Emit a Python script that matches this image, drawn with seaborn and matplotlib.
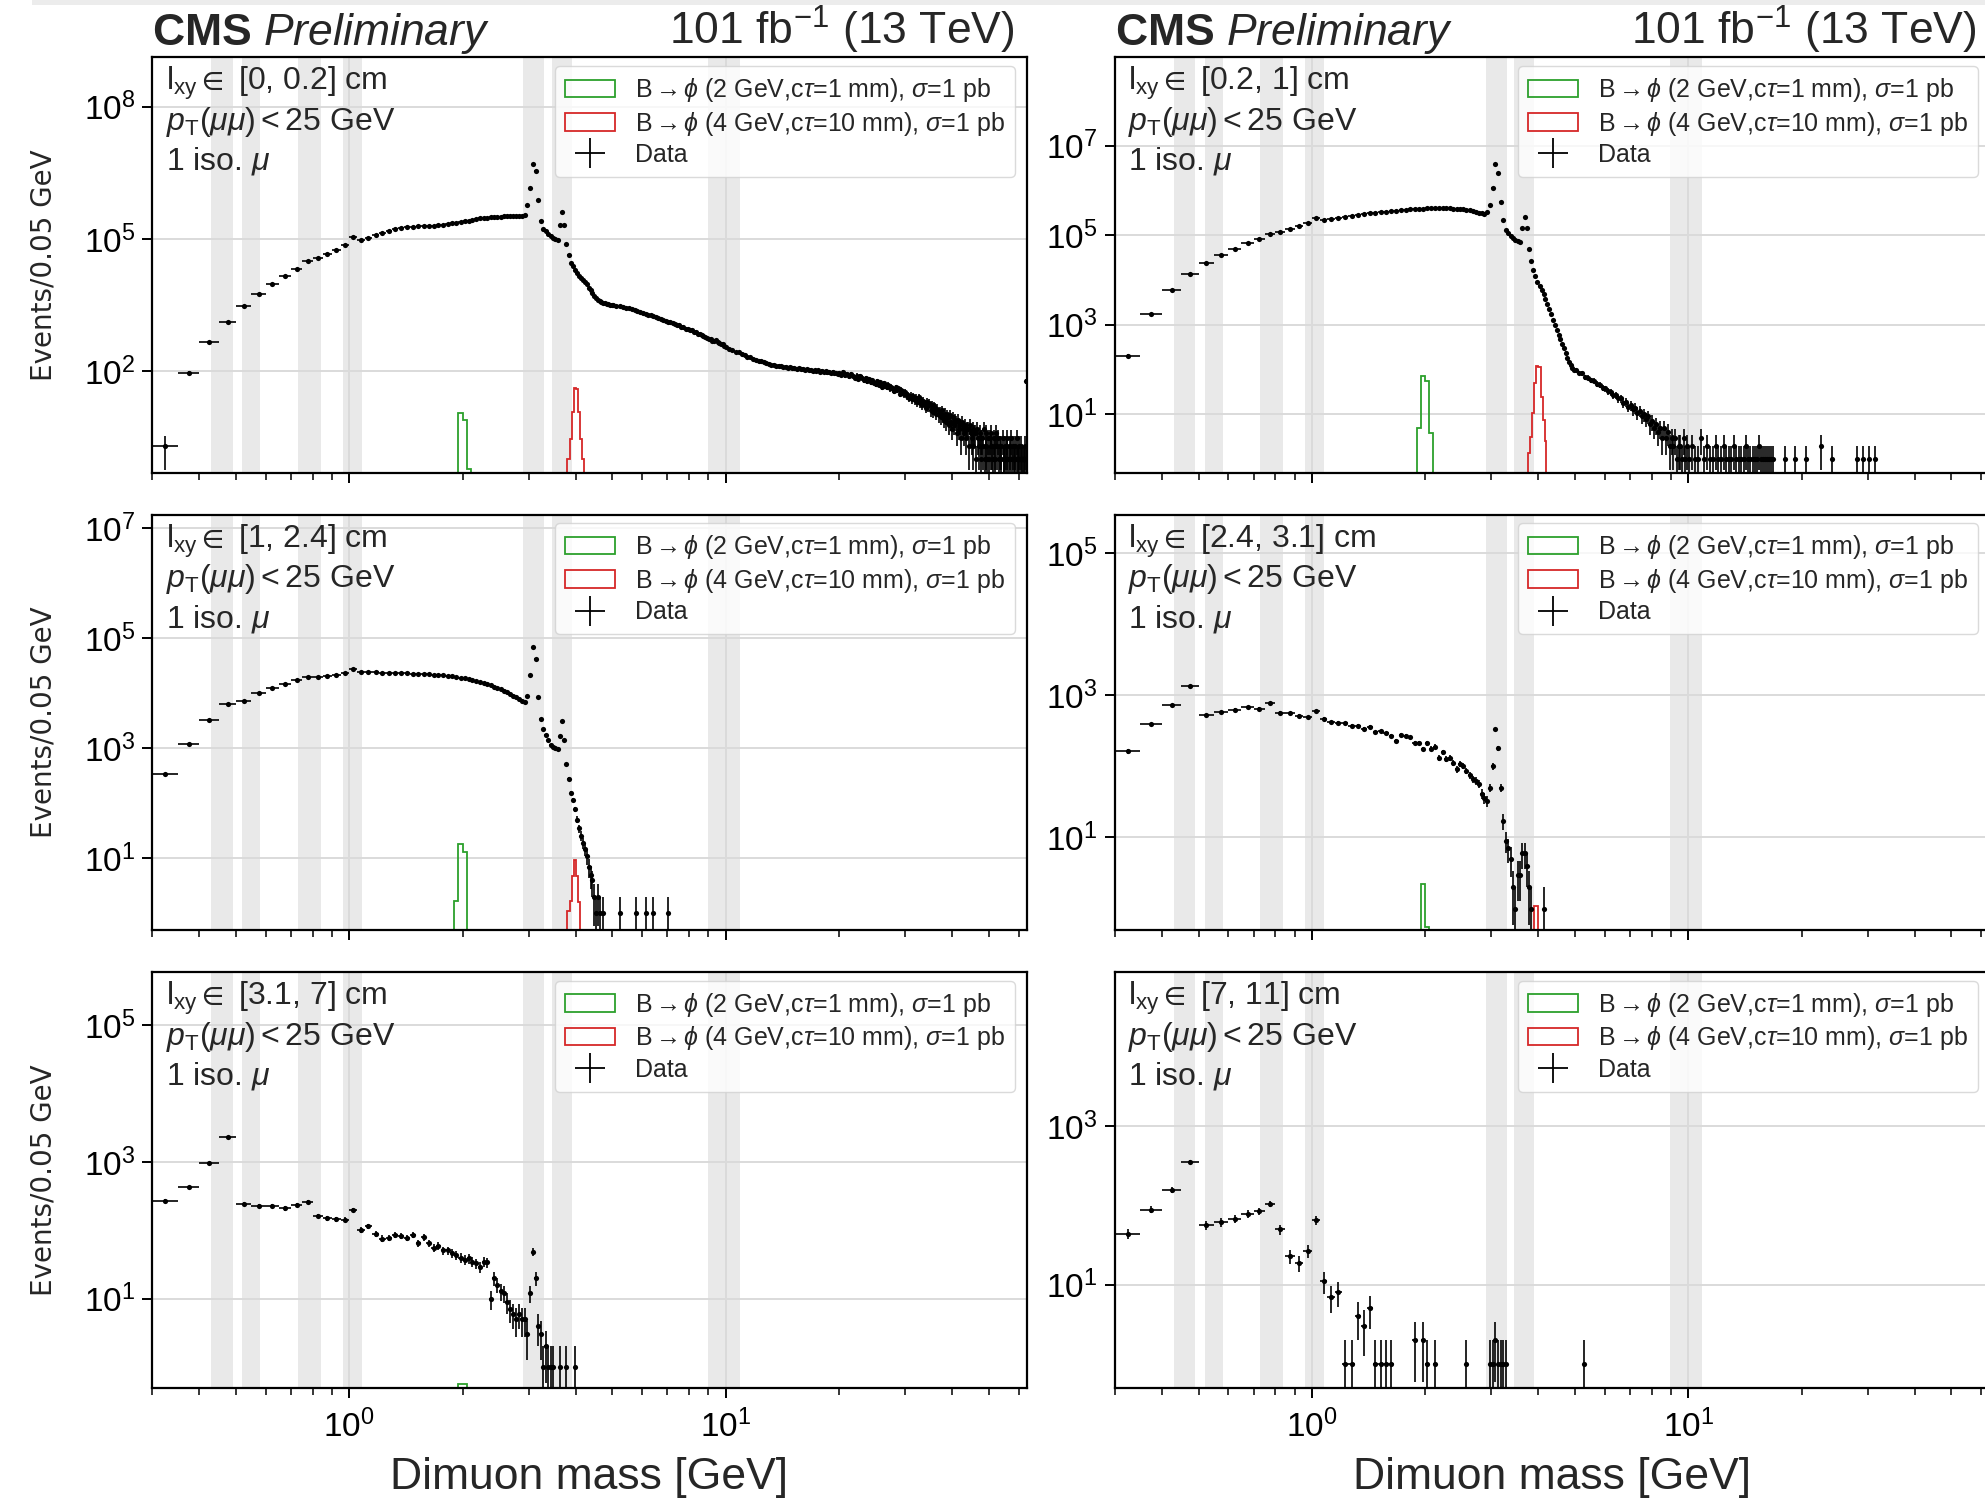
import numpy as np
import pandas as pd
import matplotlib
matplotlib.use("Agg")
import matplotlib.pyplot as plt
import matplotlib.ticker as mticker
from matplotlib.patches import Patch, Rectangle
from matplotlib.lines import Line2D
import seaborn as sns

# ---------------------------------------------------------------- data
BIN_WIDTH = 0.05          # GeV, dimuon mass bin width
LOW_FIRST_EDGE = 0.30     # low edge of first bin (GeV)
GREEN_FIRST_EDGE = 1.90   # first bin edge of the 2 GeV signal histogram
RED_FIRST_EDGE = 3.75     # first bin edge of the 4 GeV signal histogram

lxy_ranges = ["[0, 0.2]", "[0.2, 1]", "[1, 2.4]", "[2.4, 3.1]", "[3.1, 7]", "[7, 11]"]
veto_ranges = [(0.43, 0.49), (0.52, 0.58), (0.73, 0.84), (0.96, 1.08),
               (2.90, 3.30), (3.45, 3.90), (8.95, 10.90)]

label_green = "B$\\,$\u2192$\\,\\phi$ (2 GeV,c$\\tau$=1 mm), $\\sigma$=1 pb"
label_red = "B$\\,$\u2192$\\,\\phi$ (4 GeV,c$\\tau$=10 mm), $\\sigma$=1 pb"
label_data = "Data"

# counts in consecutive 0.05 GeV bins starting at 0.30 GeV
p1_low = [2, 90, 470, 1300, 2950, 5600, 9300, 14400, 20800, 31600,
          37000, 46000, 57000, 72000, 113000, 97000, 107000, 123000, 139000, 155000,
          170000, 178000, 186000, 190000, 192000, 192000, 195000, 197000, 204000, 210000,
          218000, 226000, 234000, 243000, 252000, 262000, 272000, 282000, 292000, 297000,
          302000, 307000, 312000, 317000, 322000, 327000, 327000, 332000, 332000, 332000,
          327000, 325000, 345000, 600000, 1450000, 5100000, 3500000, 760000, 260000, 170000,
          150000, 130000, 115000, 107000, 100000, 95000, 210000, 400000, 210000, 76000,
          43000, 29000, 24000, 20000, 17000, 14800, 13200, 11700, 10500, 9300,
          7900, 6900, 6000, 5200, 4600, 4200, 3900, 3700, 3550, 3450,
          3350, 3270, 3230, 3160]
# sampled higher-mass bins (bin centres) and their counts
p1_hi_mass = list(np.round(np.concatenate([5.025 + 0.1 * np.arange(50),
                                           10.025 + 0.2 * np.arange(50),
                                           20.025 + 0.25 * np.arange(172)]), 3))
p1_hi_counts = [3120, 3050, 2980, 2850, 2770, 2650, 2530, 2460, 2320, 2240,
                2100, 2020, 1920, 1850, 1750, 1710, 1600, 1550, 1460, 1410,
                1340, 1300, 1220, 1190, 1110, 1090, 1020, 1000, 930, 910,
                860, 840, 780, 770, 710, 700, 650, 640, 590, 580,
                545, 530, 495, 490, 500, 470, 440, 405, 420, 370,
                350, 322, 308, 278, 268, 240, 236, 213, 210, 192,
                184, 171, 168, 158, 152, 147, 141, 139, 133, 131,
                130, 124, 127, 119, 123, 117, 119, 113, 116, 111,
                113, 108, 111, 104, 108, 103, 105, 101, 104, 98,
                102, 96, 99, 94, 97, 92, 95, 90, 92, 88,
                92, 84, 97, 81, 86, 76, 88, 79, 71, 80, 68, 77,
                72, 63, 70, 60, 66, 57, 63, 55, 51, 59, 50, 56,
                45, 53, 47, 44, 49, 41, 45, 39, 36, 43, 38, 41,
                31, 37, 33, 30, 34, 27, 29, 25, 28, 23, 27, 22,
                25, 20, 26, 19, 22, 17, 21, 18, 15, 20, 16, 19,
                13, 17, 12, 16, 15, 11, 14, 10, 12, 9, 13, 10,
                8, 11, 7, 10, 9, 6, 10, 7, 5, 9, 6, 8,
                7, 4, 8, 5, 6, 3, 7, 5, 4, 6, 3, 5,
                5, 2, 6, 4, 3, 5, 2, 4, 4, 1, 5, 3,
                2, 4, 3, 1, 3, 2, 5, 1, 2, 4, 1, 3,
                1, 3, 2, 4, 2, 1, 3, 2, 1, 4, 2, 0,
                3, 1, 2, 1, 2, 0, 3, 1, 1, 2, 1, 3,
                2, 1, 0, 2, 1, 3, 1, 0, 2, 1, 2, 1,
                0, 1, 3, 1, 1, 2, 0, 1, 2, 1, 1, 0,
                1, 2, 1, 60]

p2_low = [205, 1780, 5900, 13500, 23400, 36000, 50000, 66000, 83000, 105000,
          120000, 138000, 163000, 186000, 245000, 214000, 234000, 245000, 255000, 265000,
          275000, 290000, 305000, 318000, 328000, 337000, 345000, 352000, 360000, 368000,
          375000, 380000, 385000, 390000, 395000, 398000, 400000, 400000, 400000, 398000,
          395000, 392000, 388000, 382000, 375000, 366000, 357000, 347000, 337000, 320000,
          305000, 300000, 330000, 460000, 1120000, 3800000, 2500000, 560000, 220000, 130000,
          110000, 95000, 85000, 78000, 73000, 70000, 145000, 250000, 145000, 49000,
          26000, 17000, 12000, 9000, 7200, 6000, 4800, 3700, 2900, 2200,
          1700, 1300, 1000, 780, 600, 470, 370, 300, 240, 180,
          150, 125, 110, 100]
p2_hi_mass = list(np.round(np.concatenate([5.025 + 0.1 * np.arange(50),
                                           10.025 + 0.2 * np.arange(35),
                                           [18.025, 19.225, 20.525, 22.525, 24.025,
                                            28.125, 29.125, 30.225, 31.425]]), 3))
p2_hi_counts = [96, 84, 82, 68, 66, 58, 57, 48, 46, 39,
                38, 33, 32, 27, 27, 23, 23, 18, 19, 15,
                16, 13, 14, 11, 12, 9, 10, 8, 9, 6,
                7, 5, 6, 4, 5, 3, 5, 3, 4, 2,
                3, 2, 3, 1, 2, 2, 1, 3, 1, 2,
                1, 2, 1, 1, 3, 1, 2, 1, 1, 2, 1, 1, 2, 1, 1, 1, 2, 1,
                1, 1, 1, 2, 1, 1, 1, 1, 1, 2, 1, 1, 1, 1, 1, 1, 1,
                1, 1, 1, 2, 1, 1, 1, 1, 1]

p3_low = [340, 1200, 3300, 6500, 7200, 10000, 12600, 15000, 17500, 19500,
          20000, 20800, 22000, 23500, 27500, 24500, 24000, 24000, 23700, 23400,
          23400, 23200, 23000, 22900, 22600, 22400, 22100, 21900, 21600, 21300,
          20900, 20400, 19900, 19400, 18800, 18200, 17600, 17000, 16200, 15500,
          14800, 14100, 13300, 12600, 11900, 11200, 10500, 9800, 9100, 8500,
          7900, 7400, 7000, 9100, 21900, 70800, 42700, 8700, 3470, 2290,
          1780, 1450, 1170, 1050, 1000, 990, 1700, 3090, 1450, 525,
          280, 155, 117, 78, 51, 35, 26, 19, 15, 11,
          7, 5, 4, 2, 1, 2, 1, 0, 1]
p3_hi_mass = [5.225, 5.775, 6.125, 6.425, 7.025]
p3_hi_counts = [1, 1, 1, 1, 1]

p4_low = [163, 390, 730, 1370, 520, 580, 630, 690, 650, 780,
          570, 565, 515, 490, 600, 465, 420, 410, 405, 370,
          370, 340, 360, 300, 310, 292, 265, 225, 275, 265,
          255, 215, 215, 175, 210, 177, 190, 132, 158, 128,
          132, 112, 91, 107, 102, 87, 75, 66, 63, 57,
          41, 36, 33, 50, 100, 330, 180, 50, 17, 9,
          7, 5, 2, 1, 3, 3, 6, 6, 4, 2,
          1, 0, 0, 0, 0, 0, 1]
p4_hi_mass = []
p4_hi_counts = []

p5_low = [270, 430, 960, 2330, 245, 225, 225, 210, 235, 265,
          164, 150, 146, 143, 200, 103, 115, 90, 76, 78,
          87, 83, 78, 87, 65, 80, 65, 55, 59, 51,
          51, 46, 44, 40, 37, 39, 35, 33, 29, 35,
          34, 10, 20, 16, 13, 12, 9, 7, 6, 5,
          6, 5, 5, 3, 12, 49, 20, 4, 3, 1,
          2, 1, 1, 1, 0, 0, 1, 0, 0, 1,
          0, 0, 0, 1]
p5_hi_mass = []
p5_hi_counts = []

p6_low = [44, 89, 157, 355, 57, 62, 68, 78, 85, 105,
          50, 23, 19, 27, 65, 11, 7, 8, 1, 1,
          4, 3, 5, 1, 1, 1, 1, 0, 0, 0,
          0, 2, 0, 2, 1, 0, 1, 0, 0, 0,
          0, 0, 0, 0, 0, 1, 0, 0, 0, 0,
          0, 0, 0, 1, 1, 2, 1, 1, 1, 1]
p6_hi_mass = [5.275]
p6_hi_counts = [1]

# signal histograms (0.05 GeV bins)
green_counts = [[0.3, 11.5, 8, 0.6],
                [5, 71, 55, 3.9],
                [1.7, 18, 13, 0.4],
                [0.3, 2.2, 0.55, 0.3],
                [0.2, 0.56, 0.56, 0.2],
                [0.1, 0.3, 0.3, 0.1]]
red_counts = [[0.3, 1, 2.85, 11.7, 42, 40, 11.7, 2.85, 1, 0.3],
              [1.4, 3.2, 10.7, 50, 122, 115, 25, 7.6, 2.5, 0.3],
              [0.3, 1.1, 1.7, 4.8, 9.3, 4.8, 1.6, 0.4, 0.2, 0.1],
              [0.1, 0.2, 0.3, 1.1, 1.1, 0.3, 0.2, 0.1, 0.1, 0.1],
              [0.05, 0.1, 0.2, 0.35, 0.35, 0.2, 0.1, 0.05, 0.05, 0.05],
              [0.02, 0.05, 0.1, 0.2, 0.2, 0.1, 0.05, 0.02, 0.02, 0.02]]

y_ticks = [[1e2, 1e5, 1e8], [1e1, 1e3, 1e5, 1e7], [1e1, 1e3, 1e5, 1e7],
           [1e1, 1e3, 1e5], [1e1, 1e3, 1e5], [1e1, 1e3]]
y_top_exp = [9.12, 8.97, 7.25, 5.54, 5.78, 4.95]

panels_low = [p1_low, p2_low, p3_low, p4_low, p5_low, p6_low]
panels_hi_mass = [p1_hi_mass, p2_hi_mass, p3_hi_mass, p4_hi_mass, p5_hi_mass, p6_hi_mass]
panels_hi_counts = [p1_hi_counts, p2_hi_counts, p3_hi_counts, p4_hi_counts, p5_hi_counts, p6_hi_counts]

# ---------------------------------------------------------------- style
sns.set_theme(style="ticks")
plt.rcParams.update({
    "font.family": ["Liberation Sans", "DejaVu Sans"],
    "mathtext.fontset": "custom",
    "mathtext.rm": "Liberation Sans",
    "mathtext.it": "Liberation Sans:italic",
    "mathtext.bf": "Liberation Sans:bold",
    "mathtext.sf": "Liberation Sans",
    "mathtext.fallback": "stixsans",
    "axes.edgecolor": "black",
    "axes.linewidth": 1.6,
    "xtick.color": "black",
    "ytick.color": "black",
    "axes.facecolor": "white",
    "figure.facecolor": "white",
})

GREEN = "#2ca02c"
RED = "#d62728"
BAND = "#e9e9e9"

fig = plt.figure(figsize=(19.85, 14.98), dpi=100)
FW, FH = 1985.0, 1498.0
col_x = [152.4 / FW, 1115.0 / FW]
ax_w = 874.2 / FW
row_bottom = [1 - 472.7 / FH, 1 - 930.0 / FH, 1 - 1387.6 / FH]
ax_h = 415.4 / FH

# faint strip at top of the screenshot
fig.add_artist(Rectangle((32 / FW, 1 - 5 / FH), 1, 5 / FH, transform=fig.transFigure,
                         color="#ececec", lw=0, zorder=0))

for i in range(6):
    row, col = divmod(i, 2)
    ax = fig.add_axes([col_x[col], row_bottom[row], ax_w, ax_h])
    ax.set_xscale("log")
    ax.set_yscale("log")

    for lo, hi in veto_ranges:
        ax.axvspan(lo, hi, color=BAND, lw=0, zorder=0.2)

    g = np.array(green_counts[i], dtype=float)
    ax.stairs(g, GREEN_FIRST_EDGE + BIN_WIDTH * np.arange(len(g) + 1),
              baseline=1e-3, color=GREEN, lw=1.3, zorder=2)
    r = np.array(red_counts[i], dtype=float)
    ax.stairs(r, RED_FIRST_EDGE + BIN_WIDTH * np.arange(len(r) + 1),
              baseline=1e-3, color=RED, lw=1.3, zorder=2)

    low = np.array(panels_low[i], dtype=float)
    centers = LOW_FIRST_EDGE + BIN_WIDTH * (np.arange(len(low)) + 0.5)
    mass = np.concatenate([centers, np.array(panels_hi_mass[i], dtype=float)])
    counts = np.concatenate([low, np.array(panels_hi_counts[i], dtype=float)])
    df = pd.DataFrame({"mass": mass, "count": counts})
    df = df[df["count"] > 0]
    err = np.sqrt(df["count"].values)
    err_lo = np.minimum(err, df["count"].values * 0.999)
    ax.errorbar(df["mass"], df["count"], xerr=BIN_WIDTH / 2, yerr=[err_lo, err],
                fmt="none", ecolor="black", elinewidth=1.2, capsize=0, zorder=3)
    sns.scatterplot(data=df, x="mass", y="count", ax=ax, color="black", s=14,
                    linewidth=0, zorder=4, legend=False)

    ax.set_xlim(0.3, 63)
    ax.set_ylim(0.5, 10 ** y_top_exp[i])
    ax.set_xlabel("")
    ax.set_ylabel("")

    ax.yaxis.set_major_locator(mticker.FixedLocator(y_ticks[i]))
    ax.yaxis.set_major_formatter(mticker.LogFormatterSciNotation())
    ax.yaxis.set_minor_locator(mticker.NullLocator())
    ax.xaxis.set_major_locator(mticker.LogLocator(base=10, numticks=10))
    ax.xaxis.set_minor_locator(mticker.LogLocator(base=10, subs=np.arange(2, 10), numticks=100))
    ax.xaxis.set_minor_formatter(mticker.NullFormatter())
    ax.tick_params(axis="both", which="major", direction="out", length=7.5, width=1.4,
                   labelsize=24, pad=5, top=False, right=False)
    ax.tick_params(axis="x", which="major", pad=8)
    ax.tick_params(axis="x", which="minor", direction="out", length=5, width=1.1,
                   top=False)
    if row < 2:
        ax.tick_params(axis="x", which="both", labelbottom=False)

    ax.grid(True, which="major", color="#dadada", lw=1.4)
    ax.set_axisbelow(True)
    for s in ax.spines.values():
        s.set_color("black")
        s.set_linewidth(1.6)
        s.set_zorder(6)

    # annotations
    ax.text(0.0152, 0.921, r"$\mathrm{l}_{\mathrm{xy}}\in$ " + lxy_ranges[i] + " cm",
            transform=ax.transAxes, fontsize=23, ha="left", va="baseline", zorder=7)
    ax.text(0.0152, 0.825, r"$p_{\mathrm{T}}(\mu\mu) < 25$ GeV",
            transform=ax.transAxes, fontsize=23, ha="left", va="baseline", zorder=7)
    ax.text(0.0152, 0.729, r"1 iso. $\mu$",
            transform=ax.transAxes, fontsize=23, ha="left", va="baseline", zorder=7)

    handles = [Patch(facecolor="none", edgecolor=GREEN, lw=1.3, label=label_green),
               Patch(facecolor="none", edgecolor=RED, lw=1.3, label=label_red),
               Line2D([], [], color="black", marker="+", markersize=21, mew=1.3,
                      ls="none", label=label_data)]
    leg = ax.legend(handles=handles, loc="upper right", bbox_to_anchor=(0.987, 0.979),
                    borderaxespad=0, fontsize=18, frameon=True, framealpha=0.8,
                    edgecolor="0.82", fancybox=True, labelspacing=0.22,
                    handlelength=2.0, handletextpad=0.8, borderpad=0.4)
    leg.set_zorder(8)

    if row == 0:
        ax.text(0.0, 1.03, r"$\mathbf{CMS}$ $\mathit{Preliminary}$", transform=ax.transAxes,
                fontsize=32, ha="left", va="baseline")
        ax.text(0.986, 1.03, r"101 fb$^{-1}$ (13 TeV)", transform=ax.transAxes,
                fontsize=32, ha="right", va="baseline")
    if col == 0:
        fig.text(44 / FW, row_bottom[row] + ax_h / 2, "Events/0.05 GeV",
                 family="DejaVu Sans", fontsize=20, rotation=90,
                 ha="center", va="center")
    if row == 2:
        fig.text(col_x[col] + ax_w / 2, 1 - 1489 / FH, "Dimuon mass [GeV]",
                 fontsize=32, ha="center", va="baseline")

fig.savefig("out.png", dpi=100)
